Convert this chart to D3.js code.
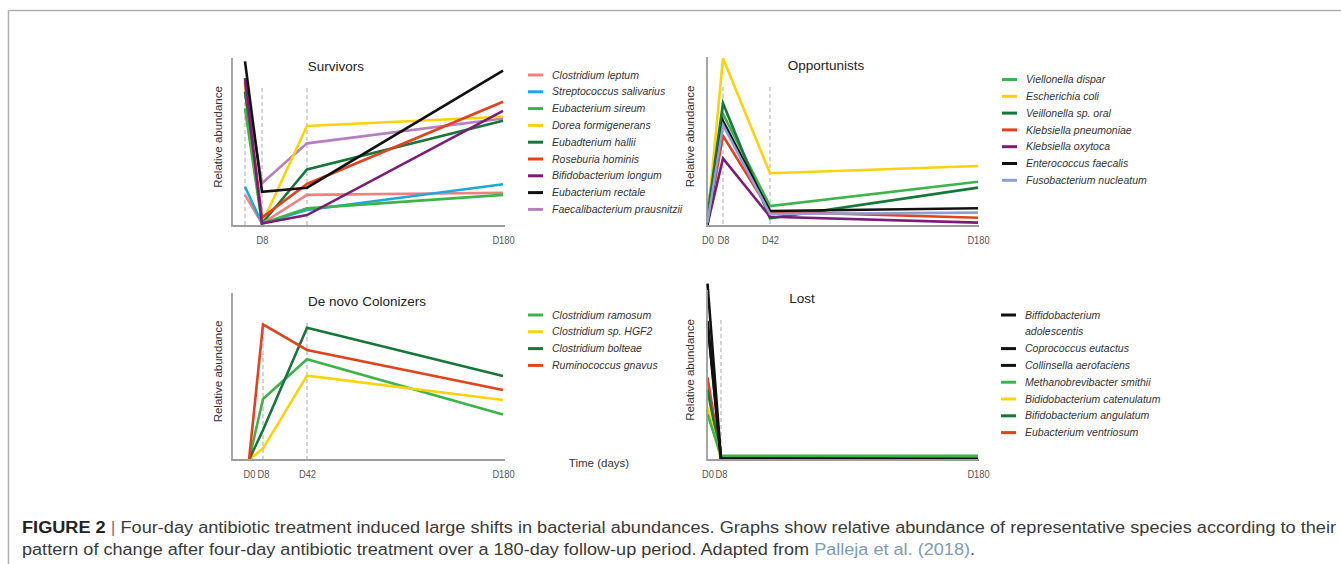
<!DOCTYPE html>
<meta charset="utf-8">

<!-- Load d3.js -->
<script src="https://d3js.org/d3.v7.min.js"></script>

<style>
  body { margin: 0; background: #fff; }
  text { font-family: "Liberation Sans", Arial, sans-serif; }
</style>

<!-- Create a div where the figure will take place -->
<div id="my_dataviz"></div>

<script>

// ---- data (relative abundance, 0 = x axis, 100 = top of the axis) ----

// Survivors
var survivorsDays = [0, 8, 42, 180];
var survivorsNames = ["Clostridium leptum", "Streptococcus salivarius", "Eubacterium sireum",
                      "Dorea formigenerans", "Eubadterium hallii", "Roseburia hominis",
                      "Bifidobacterium longum", "Eubacterium rectale", "Faecalibacterium prausnitzii"];
var survivorsValues = [
  [18.5, 1.5, 18.5, 19.8],
  [23.4, 1.5, 9.5, 24.8],
  [70, 1.5, 10.5, 18.5],
  [85, 1.5, 59.5, 65],
  [80, 1.5, 33.7, 62.7],
  [86, 5, 25, 74],
  [88, 1.5, 6.5, 68.5],
  [98, 20.4, 22.8, 92.5],
  [87, 25.4, 49.2, 64]
];

// Opportunists
var opportunistsDays = [0, 8, 42, 180];
var opportunistsNames = ["Viellonella dispar", "Escherichia coli", "Veillonella sp. oral",
                         "Klebsiella pneumoniae", "Klebsiella oxytoca", "Enterococcus faecalis",
                         "Fusobacterium nucleatum"];
var opportunistsValues = [
  [10, 66.3, 11.8, 26.2],
  [3, 99.2, 31.2, 35.5],
  [6, 72.6, 4.5, 22.7],
  [2, 53.4, 8.5, 4.9],
  [1, 40, 5.5, 2],
  [0.5, 62.1, 8.9, 10.5],
  [2, 59.8, 7.1, 7.9]
];

// De novo Colonizers
var colonizersDays = [0, 8, 42, 180];
var colonizersNames = ["Clostridium ramosum", "Clostridium sp. HGF2", "Clostridium bolteae",
                       "Ruminococcus gnavus"];
var colonizersValues = [
  [0, 36.5, 60.3, 27.3],
  [0, 7, 50.5, 35.9],
  [0, 18, 79.2, 50.3],
  [0, 81.2, 65.9, 41.9]
];

// Lost
var lostDays = [0, 8, 180];
var lostNames = ["Biffidobacterium\nadolescentis", "Coprococcus eutactus", "Collinsella aerofaciens",
                 "Methanobrevibacter smithii", "Bididobacterium catenulatum",
                 "Bifidobacterium angulatum", "Eubacterium ventriosum"];
var lostValues = [
  [103.8, 1, 0.5],
  [81.8, 0.5, 0.5],
  [81, 0.5, 0.5],
  [27, 2.5, 2.5],
  [31, 0.5, 0.5],
  [41.3, 0.5, 0.5],
  [48.5, 0.5, 0.5]
];

// ---- colours ----
var pink = "#f47f7f", blue = "#1aa8e0", green = "#3cb44a", yellow = "#fdd20b",
    dgreen = "#17773a", red = "#e2421e", purple = "#7b1d78", black = "#111111",
    lilac = "#b77ec4", lblue = "#8e9fd6";

var survivorsColors = [pink, blue, green, yellow, dgreen, red, purple, black, lilac];
var opportunistsColors = [green, yellow, dgreen, red, purple, black, lblue];
var colonizersColors = [green, yellow, dgreen, red];
var lostColors = [black, black, black, green, yellow, dgreen, red];

// drawing order (first = bottom)
var survivorsOrder = [8, 3, 4, 0, 1, 2, 5, 6, 7];
var opportunistsOrder = [0, 1, 2, 3, 4, 5, 6];
var colonizersOrder = [0, 1, 2, 3];
var lostOrder = [6, 5, 4, 3, 2, 1, 0];

// ---- layout of the four panels ----
var panels = [
  {title: "Survivors", days: survivorsDays, names: survivorsNames, values: survivorsValues,
   colors: survivorsColors, order: survivorsOrder, left: 232, top: 58, bottom: 226,
   xpos: [245, 262, 307, 503], axisEnd: 505, tickDays: [8, 180], guides: [0, 8, 42],
   titleX: 336, ylabX: 222, legendX: 528, legendY: 75},
  {title: "Opportunists", days: opportunistsDays, names: opportunistsNames, values: opportunistsValues,
   colors: opportunistsColors, order: opportunistsOrder, left: 707, top: 57, bottom: 226,
   xpos: [707.5, 723, 770, 978], axisEnd: 979, tickDays: [0, 8, 42, 180], guides: [8, 42],
   titleX: 826, ylabX: 694, legendX: 1002, legendY: 79.5},
  {title: "De novo Colonizers", days: colonizersDays, names: colonizersNames, values: colonizersValues,
   colors: colonizersColors, order: colonizersOrder, left: 232, top: 293, bottom: 460,
   xpos: [249, 263, 307, 503], axisEnd: 505, tickDays: [0, 8, 42, 180], guides: [8, 42],
   titleX: 367, ylabX: 222, legendX: 528, legendY: 315},
  {title: "Lost", days: lostDays, names: lostNames, values: lostValues,
   colors: lostColors, order: lostOrder, left: 707, top: 290, bottom: 460,
   xpos: [707.5, 721, 978], axisEnd: 979, tickDays: [0, 8, 180], guides: [8],
   titleX: 802, ylabX: 694, legendX: 1001, legendY: 315}
];

var W = 1341, H = 564;
var axisColor = "#9c9c9c";

var svg = d3.select("#my_dataviz")
  .append("svg")
    .attr("width", W)
    .attr("height", H);

// frame around the figure
svg.append("path")
  .attr("d", "M8.5,564 V10.5 H1341")
  .attr("fill", "none")
  .attr("stroke", "#b0b0b0")
  .attr("stroke-width", 1.5);

panels.forEach(function(p) {
  var g = svg.append("g");

  var x = d3.scaleLinear().domain(p.days).range(p.xpos);
  var y = d3.scaleLinear().domain([0, 100]).range([p.bottom, p.top]);

  // dashed guides at sampling days
  g.selectAll(".guide")
    .data(p.guides)
    .enter()
    .append("line")
      .attr("x1", d => x(d)).attr("x2", d => x(d))
      .attr("y1", p.top + 30).attr("y2", p.bottom)
      .attr("stroke", "#b8b8b8")
      .attr("stroke-width", 1.2)
      .attr("stroke-dasharray", "4,3");

  // tick labels (narrow, like the condensed face of the original)
  var xAxis = g.append("g")
    .attr("transform", "translate(0," + p.bottom + ")")
    .call(d3.axisBottom(x).tickValues(p.tickDays).tickFormat(d => "D" + d).tickSize(0).tickPadding(10));
  xAxis.select(".domain").remove();
  xAxis.selectAll("text")
    .attr("font-family", "Liberation Sans, Arial, sans-serif")
    .attr("font-size", 10.8)
    .attr("fill", "#555")
    .attr("transform", "scale(0.86,1)");

  // series lines
  var line = d3.line()
    .x((d, i) => x(p.days[i]))
    .y(d => y(d));
  g.selectAll(".series")
    .data(p.order)
    .enter()
    .append("path")
      .attr("d", i => line(p.values[i]))
      .attr("fill", "none")
      .attr("stroke", i => p.colors[i])
      .attr("stroke-width", 2.6)
      .attr("stroke-linejoin", "miter");

  // axes lines
  g.append("line")
    .attr("x1", p.left).attr("x2", p.left)
    .attr("y1", p.top).attr("y2", p.bottom + 1)
    .attr("stroke", axisColor).attr("stroke-width", 1.8);
  g.append("line")
    .attr("x1", p.left).attr("x2", p.axisEnd)
    .attr("y1", p.bottom).attr("y2", p.bottom)
    .attr("stroke", axisColor).attr("stroke-width", 1.8);

  // title
  g.append("text")
    .attr("x", p.titleX)
    .attr("y", p.top + 13)
    .attr("text-anchor", "middle")
    .attr("font-size", 13.5)
    .attr("fill", "#222")
    .text(p.title);

  // Y axis label
  g.append("text")
    .attr("transform", "translate(" + p.ylabX + "," + ((p.top + p.bottom) / 2 - 5) + ") rotate(-90)")
    .attr("text-anchor", "middle")
    .attr("font-size", 11.5)
    .attr("fill", "#333")
    .text("Relative abundance");

  // legend
  var row = 0;
  p.names.forEach(function(name, i) {
    var ly = p.legendY + row * 16.8;
    g.append("line")
      .attr("x1", p.legendX).attr("x2", p.legendX + 15)
      .attr("y1", ly).attr("y2", ly)
      .attr("stroke", p.colors[i])
      .attr("stroke-width", 3);
    name.split("\n").forEach(function(part) {
      g.append("text")
        .attr("x", p.legendX + 24)
        .attr("y", p.legendY + row * 16.8)
        .attr("dy", "0.35em")
        .attr("font-size", 10.5)
        .attr("font-style", "italic")
        .attr("fill", "#333")
        .text(part);
      row += 1;
    });
  });
});

// x axis title of the lower row
svg.append("text")
  .attr("x", 599)
  .attr("y", 467)
  .attr("text-anchor", "middle")
  .attr("font-size", 11.5)
  .attr("fill", "#333")
  .text("Time (days)");

// caption
var cap1 = svg.append("text")
  .attr("x", 22)
  .attr("y", 533)
  .attr("font-size", 16)
  .attr("fill", "#3a3a3a")
  .attr("textLength", 1314)
  .attr("lengthAdjust", "spacingAndGlyphs");
cap1.append("tspan").attr("font-weight", "bold").attr("fill", "#222").text("FIGURE 2");
cap1.append("tspan").attr("fill", "#777").text(" | ");
cap1.append("tspan").text("Four-day antibiotic treatment induced large shifts in bacterial abundances. Graphs show relative abundance of representative species according to their");

var cap2 = svg.append("text")
  .attr("x", 22)
  .attr("y", 554.5)
  .attr("font-size", 16)
  .attr("fill", "#3a3a3a")
  .attr("textLength", 953)
  .attr("lengthAdjust", "spacingAndGlyphs");
cap2.append("tspan").text("pattern of change after four-day antibiotic treatment over a 180-day follow-up period. Adapted from ");
cap2.append("tspan").attr("fill", "#7f9bb4").text("Palleja et al. (2018)");
cap2.append("tspan").text(".");

</script>
